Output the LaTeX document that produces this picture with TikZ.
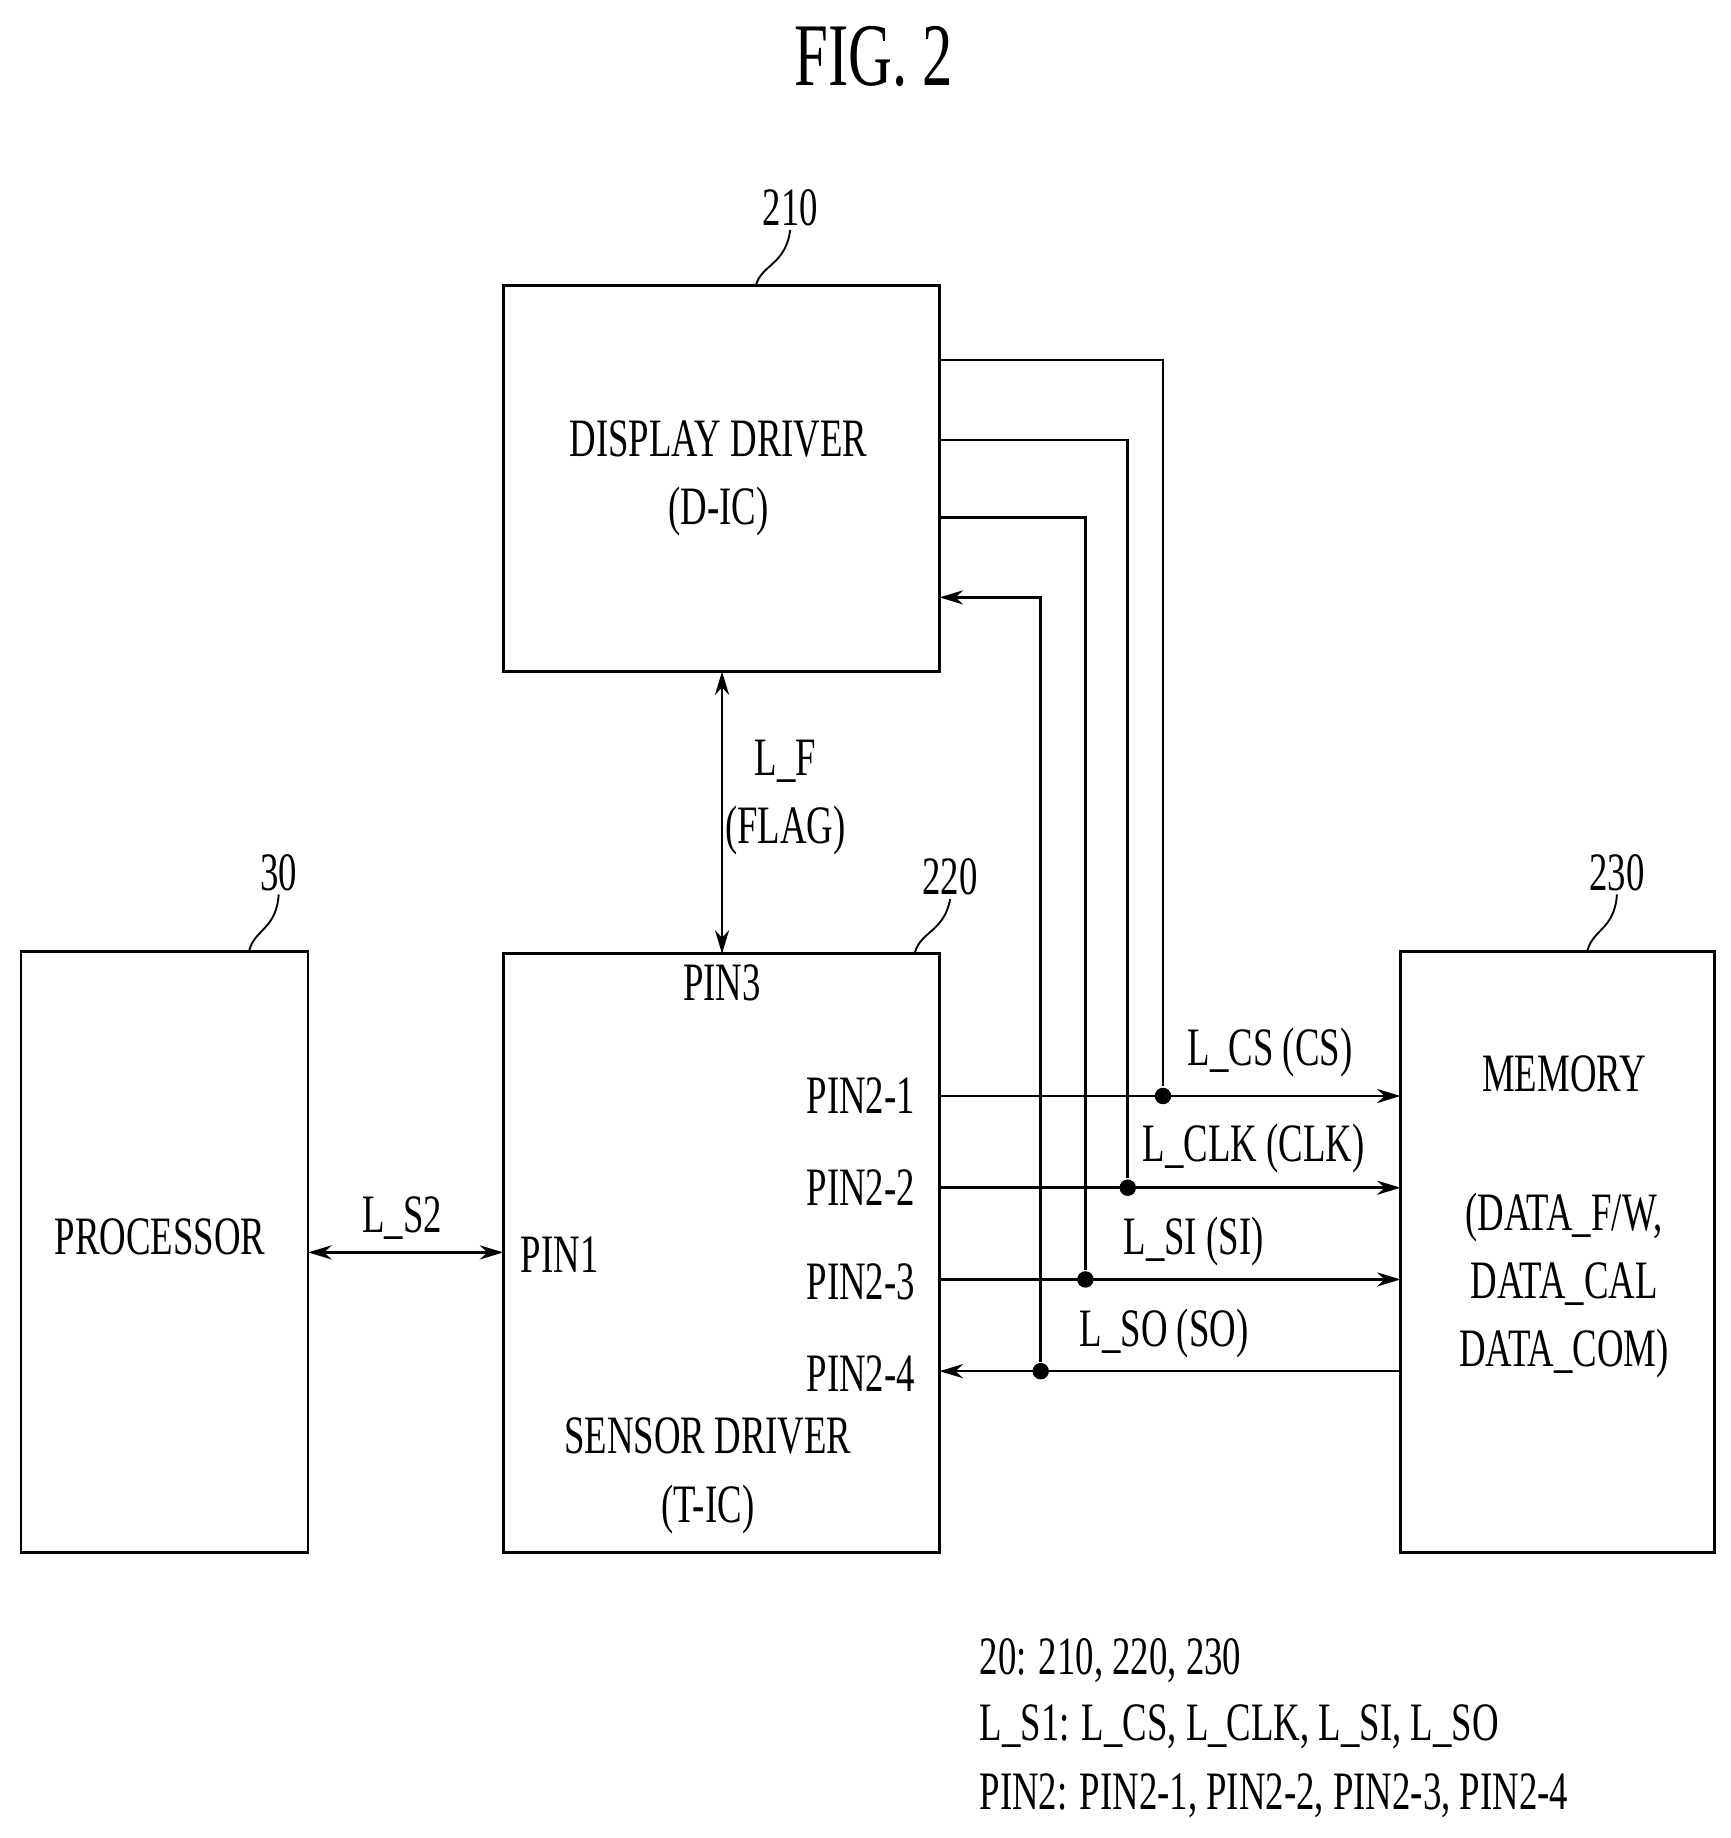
\documentclass[tikz,border=0pt]{standalone}
\usepackage{fontspec}
\setmainfont{Liberation Serif}[FakeStretch=0.68]
\usetikzlibrary{positioning, arrows.meta}
\begin{document}
\begin{tikzpicture}[x=0.5pt, y=-0.5pt, line width=1.1pt,
		lbl/.style={font=\fontsize{23}{25}\selectfont, inner sep=1pt},
		tip/.style={-{Stealth[length=10pt, width=6pt]}},
		both/.style={{Stealth[length=10pt, width=6pt]}-{Stealth[length=10pt, width=6pt]}},
		dot/.style={circle, fill, inner sep=0pt, minimum size=7pt}]
		\useasboundingbox (0,0) rectangle (1472,1563);
		\node[font=\fontsize{38}{40}\selectfont] (fig) at (743,48) {FIG. 2};
		
		% blocks
		\draw (428,243) rectangle (799,571);
		\draw (18,809) rectangle (262,1320);
		\draw (428,811) rectangle (799,1320);
		\draw (1191,809) rectangle (1458,1320);
		
		% reference numerals
		\node[lbl] (n210) at (672,177) {210};
		\node[lbl] (n30)  at (237,742) {30};
		\node[lbl] (n220) at (808,746) {220};
		\node[lbl] (n230) at (1375,742) {230};
		\draw[line width=0.8pt] (643,242) .. controls (648,225) and (668,225) .. (n210.south);
		\draw[line width=0.8pt] (212,808) .. controls (217,790) and (235,790) .. (n30.south);
		\draw[line width=0.8pt] (778,810) .. controls (783,792) and (803,792) .. (n220.south);
		\draw[line width=0.8pt] (1350,808) .. controls (1355,790) and (1373,790) .. (n230.south);
		
		% texts in blocks
		\node[lbl, align=center] (dic) at (611,407) {DISPLAY DRIVER\\[4pt](D-IC)};
		\node[lbl, align=center] (tic) at (602,1255) {SENSOR DRIVER\\[4pt](T-IC)};
		\node[lbl] (proc) at (136,1052) {PROCESSOR};
		\node[lbl, align=center] (mem) at (1330,1035) {MEMORY\\[34pt](DATA\_F/W,\\[4pt]DATA\_CAL\\[4pt]DATA\_COM)};
		\node[lbl] (pin3) at (614,836) {PIN3};
		\node[lbl] (pin1) at (476,1067) {PIN1};
		\node[lbl] (p21) at (732,932) {PIN2-1};
		\node[lbl] (p22) at (732,1010) {PIN2-2};
		\node[lbl] (p23) at (732,1090) {PIN2-3};
		\node[lbl] (p24) at (732,1168) {PIN2-4};
		
		% L_F and L_S2
		\draw[both] (614,571) -- (614,811);
		\node[lbl, align=center] (lf) at (668,678) {L\_F\\[4pt](FLAG)};
		\draw[both] (262,1065) -- (428,1065);
		\node[lbl] (ls2) at (342,1036) {L\_S2};
		
		% L_S1 lines
		\draw[tip] (799,932) -- (1191,932);
		\draw[tip] (799,1010) -- (1191,1010);
		\draw[tip] (799,1088) -- (1191,1088);
		\draw[tip] (1191,1166) -- (799,1166);
		\node[dot] (d1) at (989,932) {};
		\node[dot] (d2) at (959,1010) {};
		\node[dot] (d3) at (923,1088) {};
		\node[dot] (d4) at (885,1166) {};
		\draw (d1) |- (799,306);
		\draw (d2) |- (799,374);
		\draw (d3) |- (799,440);
		\draw[tip] (d4) |- (799,508);
		\node[lbl] (lcs) at (1080,895) {L\_CS (CS)};
		\node[lbl] (lclk) at (1066,977) {L\_CLK (CLK)};
		\node[lbl] (lsi) at (1015,1056) {L\_SI (SI)};
		\node[lbl] (lso) at (990,1134) {L\_SO (SO)};
		
		% legend
		\node[lbl, anchor=west] (g1) at (830,1412) {20: 210, 220, 230};
		\node[lbl, anchor=west] (g2) at (830,1468) {L\_S1: L\_CS, L\_CLK, L\_SI, L\_SO};
		\node[lbl, anchor=west] (g3) at (830,1527) {PIN2: PIN2-1, PIN2-2, PIN2-3, PIN2-4};
	\end{tikzpicture}
\end{document}
